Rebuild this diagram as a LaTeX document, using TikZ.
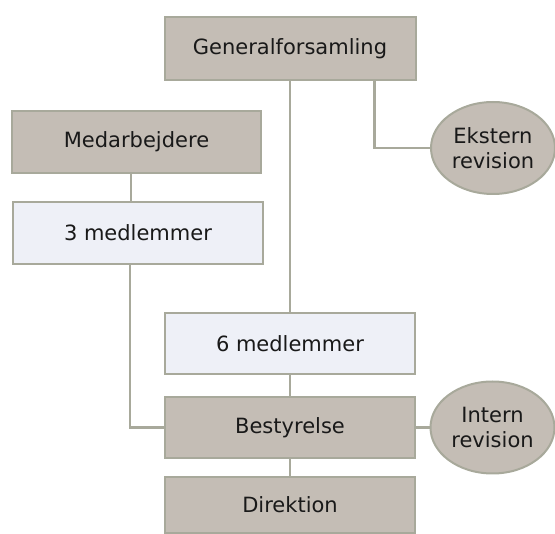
\documentclass[tikz,border=0pt]{standalone}
\usepackage{fontspec}
\setmainfont{DejaVu Sans}
\usetikzlibrary{shapes.geometric}
\definecolor{boxfill}{HTML}{C4BDB5}
\definecolor{lightfill}{HTML}{EEF0F7}
\definecolor{edge}{HTML}{A8A99B}
\begin{document}
\begin{tikzpicture}[x=1pt,y=-1pt,
  every node/.style={font=\fontsize{21}{25}\selectfont, text=black!90},
  darkbox/.style={draw=edge, line width=2pt, fill=boxfill, minimum width=250pt, minimum height=62pt, inner sep=0pt},
  lightbox/.style={draw=edge, line width=2pt, fill=lightfill, minimum width=250pt, minimum height=62pt, inner sep=0pt},
  oval/.style={ellipse, draw=edge, line width=2pt, fill=boxfill, minimum width=124pt, minimum height=92pt, inner sep=0pt, align=center},
  link/.style={draw=edge, line width=2.5pt}]
\useasboundingbox (0,0) rectangle (555,534);
\node[darkbox, minimum width=251pt, minimum height=63pt] (gen) at (290,48.5) {Generalforsamling};
\node[darkbox, minimum width=249pt] (med) at (136.5,142) {Medarbejdere};
\node[lightbox] (m3) at (138,233) {3 medlemmer};
\node[lightbox, minimum height=61pt] (m6) at (290,343.5) {6 medlemmer};
\node[darkbox, minimum height=61pt] (best) at (290,427.5) {Bestyrelse};
\node[darkbox, minimum height=56pt] (dir) at (290,505) {Direktion};
\node[oval] (ext) at (493,148) {Ekstern\\revision};
\node[oval] (int) at (492.5,427.5) {Intern\\revision};
\path[link] (gen.south) -- (m6.north);
\path[link] ([xshift=84.5pt]gen.south) |- (ext.west);
\path[link] ([xshift=-5.5pt]med.south) -- ([xshift=-7pt]m3.north);
\path[link] ([xshift=-8pt]m3.south) |- (best.west);
\path[link] (m6.south) -- (best.north);
\path[link] (best.south) -- (dir.north);
\path[link] (best.east) -- (int.west);
\end{tikzpicture}
\end{document}
